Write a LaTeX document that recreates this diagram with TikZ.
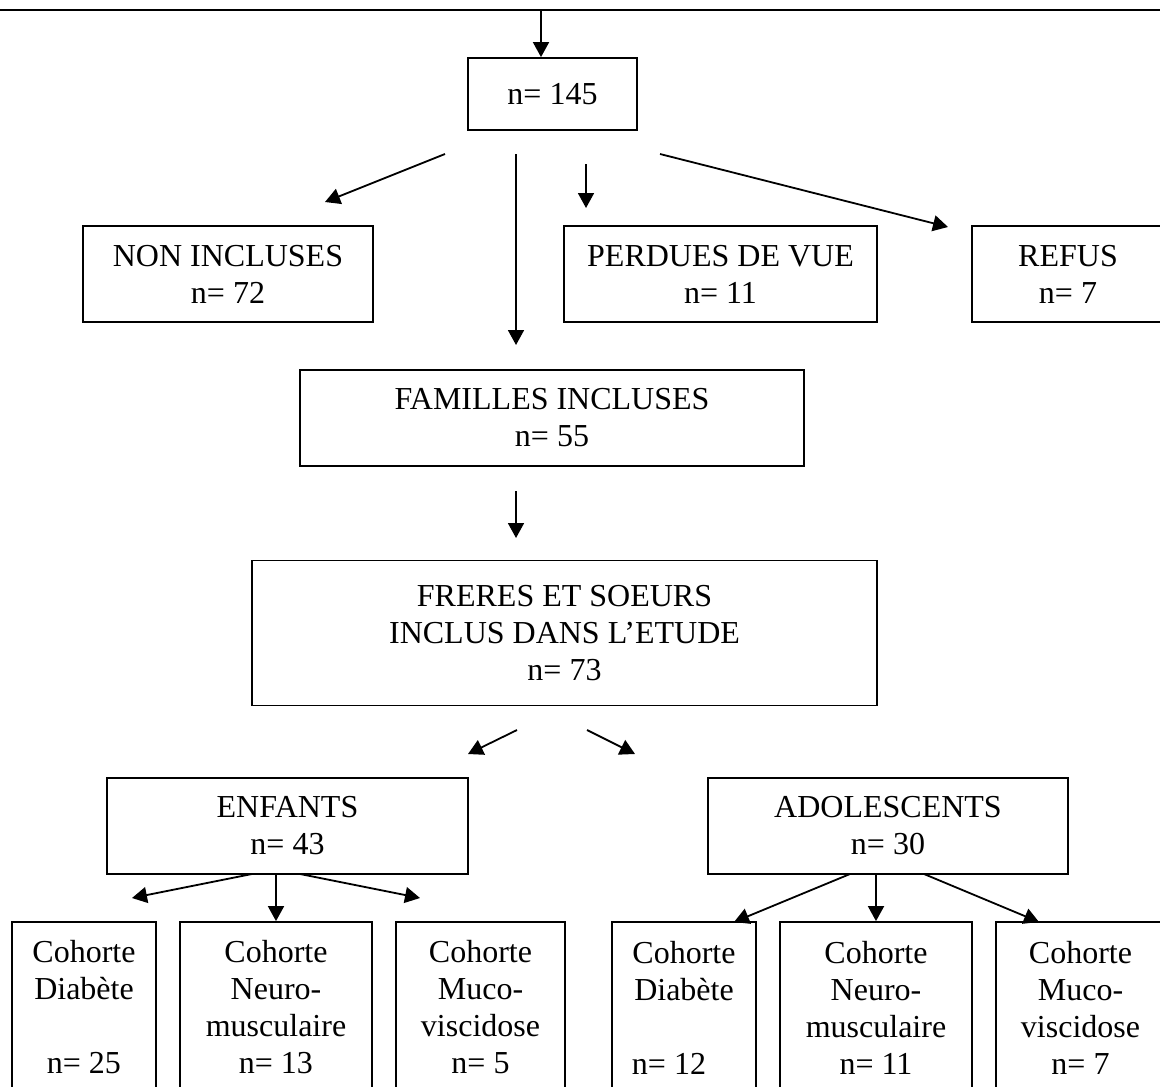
\documentclass[tikz,border=0pt]{standalone}
\usepackage{fontspec}
\setmainfont{Liberation Serif}
\usetikzlibrary{arrows.meta}
\newcommand{\pixelsize}{0.5pt}
\newcommand{\boxfont}{\fontsize{16}{18.5}\selectfont}

\begin{document}
\begin{tikzpicture}[x=\pixelsize,y=-\pixelsize,
	box/.style={draw, line width=0.9pt, inner sep=0pt, align=center, font=\boxfont},
	boxsize/.style 2 args={minimum width=#1*\pixelsize, minimum height=#2*\pixelsize},
	arr/.style={line width=0.9pt, -{Triangle[length=7.5pt,width=8pt]}}]
	\useasboundingbox (0,0) rectangle (1160,1086);

	\coordinate (lineL) at (0,10);
	\coordinate (lineR) at (1160,10);
	\coordinate (top) at (541,10);

	\node [box, boxsize={169}{72}] (n145) at (552.5,94) {n= 145};
	\node [box, boxsize={290}{96}] (non) at (228,274) {NON INCLUSES\\n= 72};
	\node [box, boxsize={313}{96}] (perdues) at (720.5,274) {PERDUES DE VUE\\n= 11};
	\node [box, boxsize={192}{96}] (refus) at (1068,274) {REFUS\\n= 7};
	\node [box, boxsize={504}{96}] (familles) at (552,418) {FAMILLES INCLUSES\\n= 55};
	\node [box, boxsize={625}{145}] (freres) at (564.5,633) {FRERES ET SOEURS\\INCLUS DANS L’ETUDE\\n= 73};
	\node [box, boxsize={361}{96}] (enf) at (287.5,826) {ENFANTS\\n= 43};
	\node [box, boxsize={360}{96}] (ado) at (888,826) {ADOLESCENTS\\n= 30};

	% cohortes, coupees en bas
	\node [box, boxsize={144}{171}] (c1) at (84,1007.5) {Cohorte\\Diabète\\\mbox{}\\n= 25};
	\node [box, boxsize={192}{171}] (c2) at (276,1007.5) {Cohorte\\Neuro-\\musculaire\\n= 13};
	\node [box, boxsize={169}{171}] (c3) at (480.5,1007.5) {Cohorte\\Muco-\\viscidose\\n= 5};
	\node [box, boxsize={144}{171}] (c4) at (684,1007.5) {Cohorte\\Diabète\\\mbox{}\\n= 12\rule{15pt}{0pt}};
	\node [box, boxsize={192}{171}] (c5) at (876,1007.5) {Cohorte\\Neuro-\\musculaire\\n= 11};
	\node [box, boxsize={169}{171}] (c6) at (1080.5,1007.5) {Cohorte\\Muco-\\viscidose\\n= 7};

	\coordinate (nonA) at (445,154);
	\coordinate (nonB) at (325,202);
	\coordinate (famA) at (516,154);
	\coordinate (famB) at (516,345);
	\coordinate (perA) at (586,164);
	\coordinate (perB) at (586,208);
	\coordinate (refA) at (660,154);
	\coordinate (refB) at (948,227);
	\coordinate (frA) at (516,491);
	\coordinate (frB) at (516,538);
	\coordinate (enfA) at (517,730);
	\coordinate (enfB) at (468,754);
	\coordinate (adoA) at (587,730);
	\coordinate (adoB) at (635,754);
	\coordinate (c1A) at (252,874);
	\coordinate (c1B) at (132,898);
	\coordinate (c3A) at (300,874);
	\coordinate (c3B) at (420,898);
	\coordinate (c4A) at (850,874);
	\coordinate (c4B) at (734,922);
	\coordinate (c6A) at (924,874);
	\coordinate (c6B) at (1039,922);

	\draw [line width=0.9pt] (lineL) -- (lineR);
	\draw [arr] (top) -- (top |- n145.north);
	\draw [arr] (nonA) -- (nonB);
	\draw [arr] (famA) -- (famB);
	\draw [arr] (perA) -- (perB);
	\draw [arr] (refA) -- (refB);
	\draw [arr] (frA) -- (frB);
	\draw [arr] (enfA) -- (enfB);
	\draw [arr] (adoA) -- (adoB);
	\draw [arr] (c1A) -- (c1B);
	\draw [arr] (c2.north |- enf.south) -- (c2.north);
	\draw [arr] (c3A) -- (c3B);
	\draw [arr] (c4A) -- (c4B);
	\draw [arr] (c5.north |- ado.south) -- (c5.north);
	\draw [arr] (c6A) -- (c6B);

\end{tikzpicture}
\end{document}
